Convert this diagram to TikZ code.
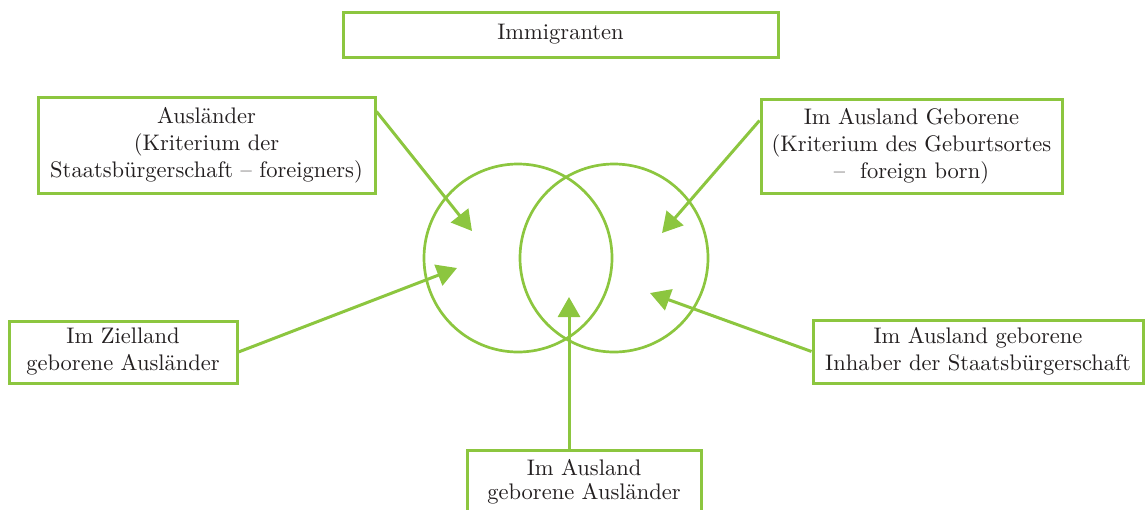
\documentclass[tikz,border=0pt]{standalone}
\usepackage{fontspec}
\setmainfont{lmroman10-regular.otf}
\usetikzlibrary{arrows.meta,calc}
\definecolor{lgreen}{HTML}{8CC63F}
\definecolor{txt}{HTML}{231F20}
\begin{document}
\begin{tikzpicture}[x=1pt,y=-1pt,
  box/.style={draw=lgreen, line width=3pt, fill=white, text=txt, align=center,
    font=\fontsize{22.5}{27}\selectfont, inner sep=0pt},
  ring/.style={circle, draw=lgreen, line width=2.7pt, minimum size=188pt, inner sep=0pt},
  arr/.style={draw=lgreen, line width=3pt, -{Triangle[length=20pt,width=22pt]}}]
\clip (0,0) rectangle (1145,509);
\node[ring] (c1) at (518,258) {};
\node[ring] (c2) at (614,258) {};
\node[box, minimum width=435pt, minimum height=45pt] (imm) at (560.5,34.5) {Immigranten};
\node[box, minimum width=337pt, minimum height=96pt] (aus) at (206.5,145) {Ausländer\\(Kriterium der\\Staatsbürgerschaft -- foreigners)};
\node[box, minimum width=301pt, minimum height=94pt] (geb) at (911.5,146) {Im Ausland Geborene\\(Kriterium des Geburtsortes\\--~ foreign born)};
\node[box, minimum width=228pt, minimum height=62pt] (ziel) at (123,352) {Im Zielland\\geborene Ausländer};
\node[box, minimum width=330pt, minimum height=63pt] (inh) at (978,351.5) {Im Ausland geborene\\Inhaber der Staatsbürgerschaft};
\node[box, minimum width=234pt, minimum height=64pt, font=\fontsize{22.5}{24}\selectfont] (bot) at (584,482) {Im Ausland\\geborene Ausländer};
\coordinate (t1) at (472,231);
\coordinate (t2) at (662,233);
\coordinate (t3) at (457,268);
\coordinate (t4) at (650,293);
\coordinate (t5) at (569,297);
\draw[arr] ([yshift=-16pt]aus.north east) -- (t1);
\draw[arr] ([yshift=-23pt]geb.north west) -- (t2);
\draw[arr] (ziel.east) -- (t3);
\draw[arr] (inh.west) -- (t4);
\draw[arr] ([xshift=-15pt]bot.north) -- (t5);
\end{tikzpicture}
\end{document}
